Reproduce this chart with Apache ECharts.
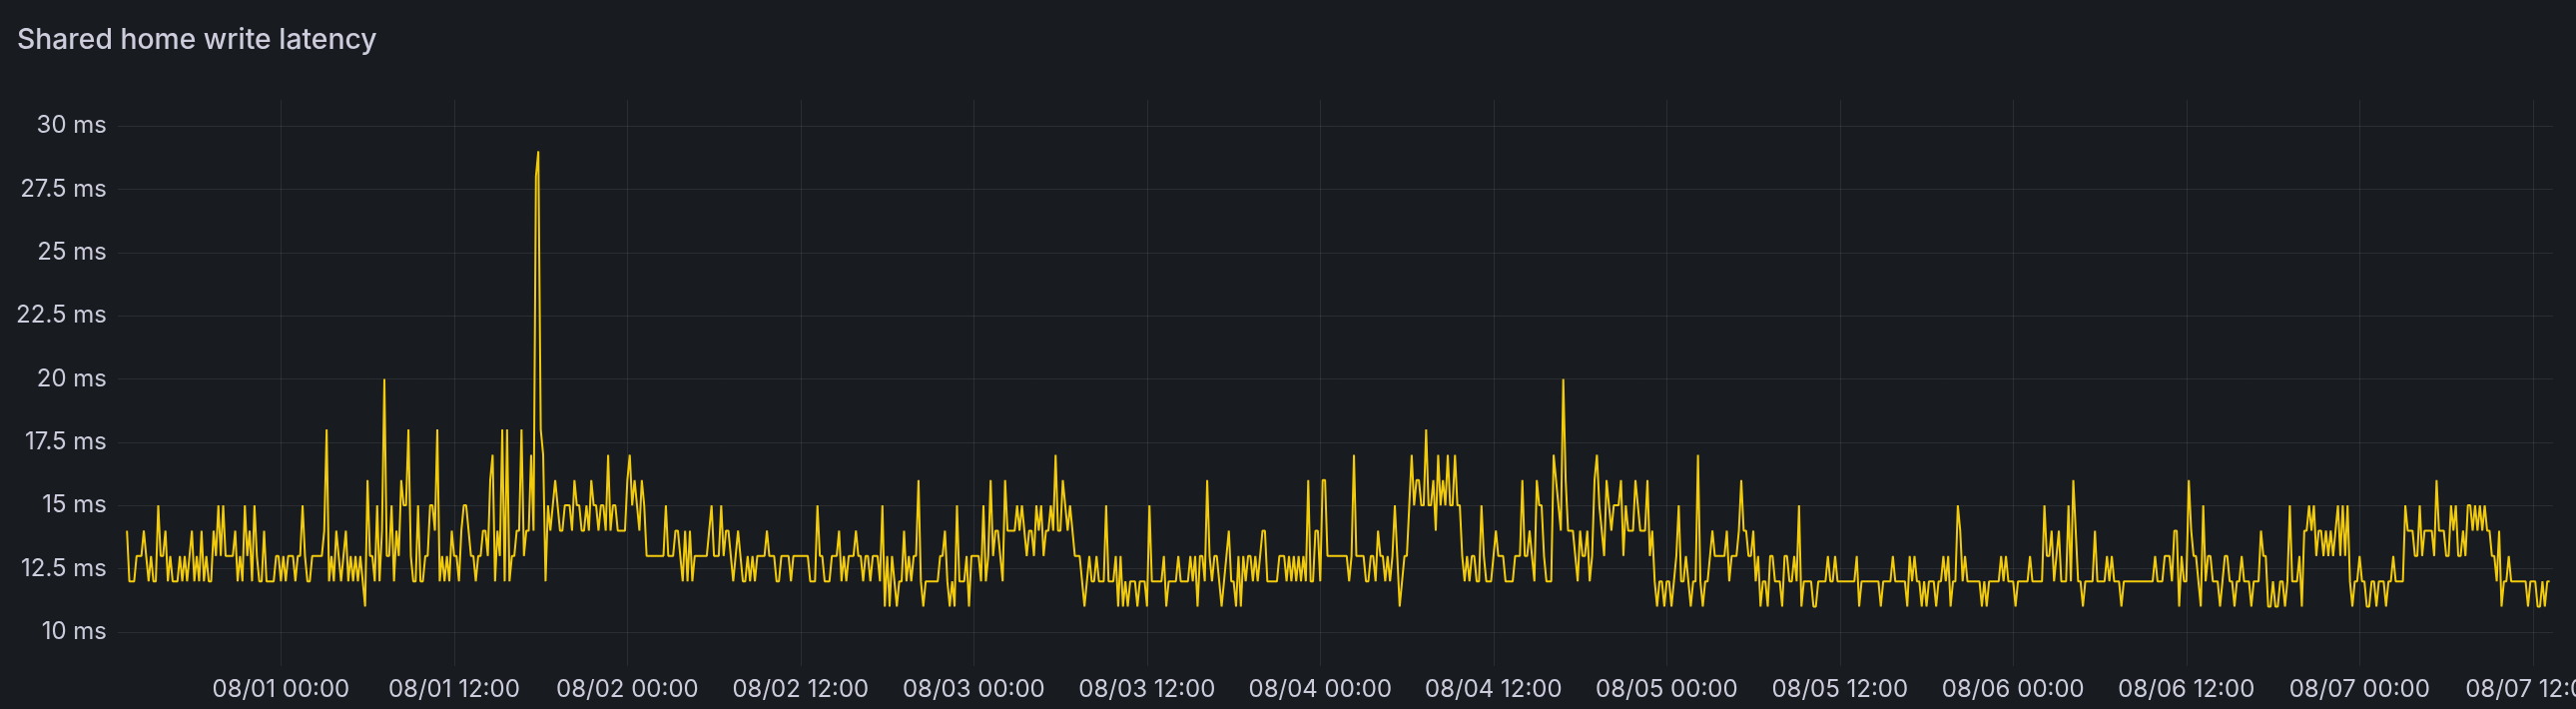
<!DOCTYPE html>
<html><head><meta charset="utf-8">
<script src="https://cdn.jsdelivr.net/npm/echarts@6/dist/echarts.min.js"></script>
<style>html,body{margin:0;padding:0;background:#181b1f;overflow:hidden}#c{width:2580px;height:710px}</style>
</head><body><div id="c"></div>
<script>
// ---- data: write latency (ms), one sample every 10 minutes from 2024-07-31 13:20 (UTC) ----
const title = 'Shared home write latency';
const startTime = '2024-07-31T13:20:00Z';
const stepMinutes = 10;
const latency0731 = [14,12,12,12,13,13,13,14,13,12, 13,12,12,15,13,13,14,12,13,12, 12,12,13,12,13,12,13,14,12,13, 12,14,12,13,12,12,14,13,15,13, 15,13,13,13,13,14,12,13,12,15, 13,14,12,15,13,12,12,14,12,12, 12,12,13,13,12,13,12,13,13, 13,12,13,13,15,13,12,12,13,13, 13,13,13,14,18,12,13,12, 14,13,12,13,14,12,13,12,13,12, 13,12,11,16,13,13,12,15,12,14, 20,13,13,15,12,14];
const latency0801 = [13,16,15,15,18,13,12,12,15,12, 12,13,13,15,15,14,18,12,13,12, 13,12,14,13,13,12,14,15,15,14, 13,13,12,13,13,14,14,13,16,17, 12,14,13,18,12,18,12,13,13,14, 14,18,13,14,14,17,14,28,29,18, 17,12,15,14,15,16,15,14,14,15, 15,15,14,16,15,15,14,14,15,14, 16,15,15,14,15,15,14,17,14,15, 15,14,14,14,14,16,17,15,16,15, 14,16,15,13,13,13,13,13,13,13, 13,15,13,13,13,14,14,13,12,14, 12];
const latency0802 = [14,12,13,13,13,13,13,13,14,15, 13,13,13,15,13,14,14,13,12,13, 14,13,12,12,13,12,13,12,13,13, 13,13,14,13,13,13,12,12,13,13, 13,13,12,13,13,13,13,13,13,13, 12,12,12,15,13,13,12,12,12,13, 13,13,14,12,13,12,13,13,13,14, 13,13,12,13,13,12,13,13,13,12, 15,11,13,11,13,12,11,12,12,14, 12,13,12,13,13,16,12,11,12,12, 12,12,12,12,13,13,14,12,11,12, 11,15,12,12,12,13,11,13,13,13, 13,12,15,12,13,16,13,14,14,13, 12,16,14,14,14,14,15,14,15,14, 13,14,14,13,15,14,15,13,14,14, 15,14,17,14];
const latency0803 = [14,16,15,14,15,14,13,13,13,12, 11,12,13,12,12,13,12,12,12,15, 12,12,12,13,11,13,11,12,11,12, 12,12,11,12,12,12,11,15,12,12, 12,12,12,13,11,12,12,12,12,13, 12,12,12,12,13,12,13,11,13,13, 12,16,13,12,13,13,12,11,12,13, 14,12,12,11,13,11,13,12,13,13, 12,13,12,13,14,14,12,12,12,12, 12,13,13,13,12,13,12,13,12,13, 12,13,12,16,12,12,14,14,12,16, 16,13,13,13,13,13,13,13,13,13, 12,13,17,13,13,13,13,12,12,13, 13,12,14,13,13,12,13,12,13,15, 13,11,12,13,13,15,17,15,16,16, 15,15,18];
const latency0804 = [15,15,16,14,17,15,16,15,17,15, 15,17,15,15,13,12,13,12,13,13, 12,12,15,13,12,12,12,13,14,13, 13,13,12,12,12,12,13,13,13,16, 13,13,14,13,12,16,15,15,13,12, 12,12,17,16,15,14,20,16,14,14, 14,13,12,14,13,13,14,12,13,16, 17,15,14,13,16,15,14,15,15,15, 16,13,15,14,14,14,16,15,14,14, 14,16,13,14,12,11,12,12,11,12, 12,11,12,13,15,12,12,13,12,11, 12,12,17,12,11,12,12,13,14,13, 13,13,13,13,14,12,13,13,13,14, 16,14,14,13,13,14,12,13,11,12, 12,11,13,13,12,12,12,11,13,13, 12,12,13,12];
const latency0805 = [15,11,12,12,12,12,11,11,12,12, 12,12,13,12,12,13,12,12,12,12, 12,12,12,12,13,11,12,12,12,12, 12,12,12,12,11,12,12,12,12,13, 12,12,12,12,12,11,13,12,13,12, 12,11,12,11,12,12,12,11,12,12, 13,12,13,11,12,12,15,14,12,13, 12,12,12,12,12,12,11,12,11,12, 12,12,12,12,13,12,13,12,12,12, 11,12,12,12,12,12,13,12,12,12, 12,12,15,13,13,14,12,13,14,12, 12,12,15,12,16,14,12,12,11,12, 12,12,12,14,12,12,12,12,13,12, 13,12,12,12,11,12,12,12,12,12, 12,12,12,12,12,12,12,12,13,12, 12,12,13];
const latency0806 = [13,13,12,14,14,11,13,12,12,16, 14,13,13,12,11,15,12,13,13,12, 12,12,11,12,13,13,12,12,11,12, 12,13,12,12,12,11,12,12,12,14, 13,13,11,11,12,11,11,12,12,11, 12,15,12,12,12,13,11,14,14,15, 14,15,13,14,14,13,14,13,14,13, 14,15,13,15,13,15,12,11,12,12, 13,12,12,11,11,12,12,11,12,12, 12,11,12,12,13,12,12,12,12,15, 14,14,14,13,13,15,13,14,14,14, 14,13,16,14,14,14,13,13,15,14, 15,13,13,14,13,15,15,14,15,14, 15,14,15,14,14,13,13,12,14,11, 12,12,13,12,12,12,12,12,12,12, 11,12,12,12,11,11,12,11,12,12];
const yTickValues = [10,12.5,15,17.5,20,22.5,25,27.5,30];
const xTickLabels = ['08/01 00:00','08/01 12:00','08/02 00:00','08/02 12:00','08/03 00:00','08/03 12:00','08/04 00:00','08/04 12:00','08/05 00:00','08/05 12:00','08/06 00:00','08/06 12:00','08/07 00:00','08/07 12:00'];
const year = 2024;

// ---- build ----
const values = [].concat(latency0731, latency0801, latency0802, latency0803, latency0804, latency0805, latency0806);
const t0 = Date.parse(startTime);
const seriesData = values.map((v, i) => [t0 + i * stepMinutes * 60000, v]);
function parseTick(s) {
  const m = s.match(/(\d+)\/(\d+) (\d+):(\d+)/);
  return Date.UTC(year, +m[1] - 1, +m[2], +m[3], +m[4]);
}
const xTickValues = xTickLabels.map(parseTick);
const pad = n => String(n).padStart(2, '0');
function fmtTime(v) {
  const d = new Date(v);
  return pad(d.getUTCMonth() + 1) + '/' + pad(d.getUTCDate()) + ' ' + pad(d.getUTCHours()) + ':' + pad(d.getUTCMinutes());
}

const textColor = '#ccccdc';
const gridColor = 'rgba(204,204,220,0.10)';
const chart = echarts.init(document.getElementById('c'), null, { renderer: 'canvas' });
chart.setOption({
  backgroundColor: '#181b1f',
  animation: false,
  title: {
    text: title, left: 12, top: 21,
    textStyle: { color: textColor, fontFamily: 'Inter', fontWeight: 500, fontSize: 28.3, lineHeight: 28 }
  },
  grid: { left: 118, right: 23, top: 100, bottom: 43, containLabel: false, outerBoundsMode: 'none' },
  xAxis: {
    type: 'value',
    min: Date.UTC(2024, 6, 31, 12, 42),
    max: Date.UTC(2024, 7, 7, 13, 24),
    axisLine: { show: false },
    axisTick: { show: false, customValues: xTickValues },
    splitLine: { show: true, lineStyle: { color: gridColor, width: 1 } },
    axisLabel: {
      customValues: xTickValues, formatter: fmtTime, hideOverlap: false,
      showMinLabel: true, showMaxLabel: true,
      color: textColor, fontFamily: 'Inter', fontSize: 24, margin: 11.5, lineHeight: 24
    }
  },
  yAxis: {
    type: 'value',
    min: 8.65, max: 31.03,
    axisLine: { show: false },
    axisTick: { show: false, customValues: yTickValues },
    splitLine: { show: true, lineStyle: { color: gridColor, width: 1 } },
    axisLabel: {
      customValues: yTickValues, formatter: v => v + ' ms',
      color: textColor, fontFamily: 'Inter', fontSize: 24, margin: 11
    }
  },
  series: [{
    type: 'line', data: seriesData, showSymbol: false, sampling: false,
    lineStyle: { color: '#F2CC0C', width: 2 }, itemStyle: { color: '#F2CC0C' }
  }]
});
</script></body></html>
